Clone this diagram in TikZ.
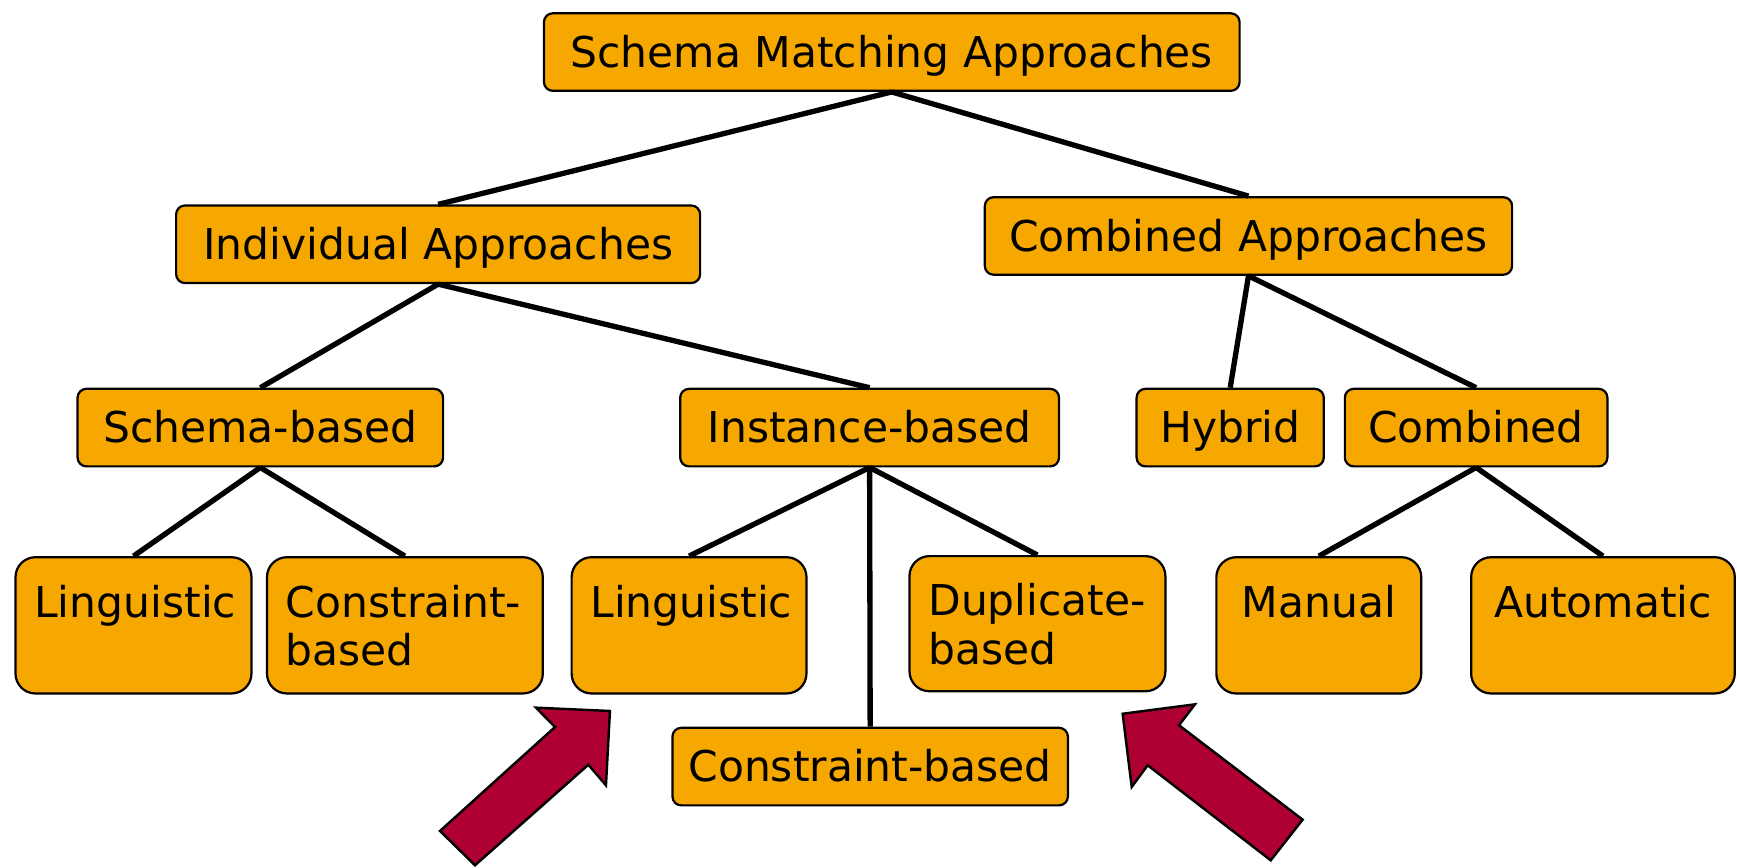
\documentclass[tikz,border=0pt]{standalone}
\usepackage{fontspec}
\setmainfont{DejaVu Sans}

\definecolor{boxfill}{RGB}{247,168,0}
\definecolor{arrowfill}{RGB}{174,0,51}

% Content of a tall box: text hung from the top edge, first baseline 54pt down
\newcommand{\hangtext}[4]{\parbox[c][#2pt][t]{\dimexpr#1pt-34pt\relax}{#3\rule{0pt}{54pt}#4}}

\tikzset{
  x=1pt, y=-1pt,
  boxfont/.style={font=\fontsize{38.3}{44}\selectfont},
  box/.style={boxfont, draw=black, line width=2pt, fill=boxfill,
    rounded corners=8pt, inner sep=0pt, text height=27.7pt, text depth=0pt,
    minimum height=70pt},
  tallbox/.style={boxfont, draw=black, line width=2pt, fill=boxfill,
    rounded corners=18pt, inner xsep=17pt, inner ysep=0pt},
  conn/.style={draw=black, line width=4.8pt},
  blockarrow/.style={draw=black, line width=2.2pt, fill=arrowfill, line join=miter},
}

\begin{document}
\begin{tikzpicture}
\useasboundingbox (0,0) rectangle (1568,783);

% upper levels
\node[box, minimum width=628pt] (top)  at (805,47)    {Schema Matching Approaches};
\node[box, minimum width=473pt] (ind)  at (395.5,220.5) {Individual Approaches};
\node[box, minimum width=476pt] (comb) at (1127,213)  {Combined Approaches};

\node[box, minimum width=330pt] (schema)   at (235,386)    {Schema-based};
\node[box, minimum width=342pt] (instance) at (785,386)    {Instance-based};
\node[box, minimum width=169pt] (hybrid)   at (1110.5,386) {Hybrid};
\node[box, minimum width=237pt] (combined) at (1332.5,386) {Combined};

% leaves
\node[tallbox] (ling1)  at (120.5,564.5) {\hangtext{213}{123}{\centering}{Linguistic}};
\node[tallbox] (cons1)  at (365.5,564.5) {\hangtext{249}{123}{\raggedright}{Constraint-\\based}};
\node[tallbox] (ling2)  at (622,564.5)   {\hangtext{212}{123}{\centering}{Linguistic}};
\node[tallbox] (dup)    at (936.5,563)   {\hangtext{231}{122}{\raggedright}{Duplicate-\\based}};
\node[tallbox] (manual) at (1190.5,564.5){\hangtext{185}{123}{\centering}{Manual}};
\node[tallbox] (auto)   at (1447,564.5)  {\hangtext{238}{123}{\centering}{Automatic}};
\node[box, minimum width=357pt] (cons2) at (785.5,692) {Constraint-based};

% tree edges
\draw[conn] (top.south) -- (ind.north);
\draw[conn] (top.south) -- (comb.north);
\draw[conn] (ind.south) -- (schema.north);
\draw[conn] (ind.south) -- (instance.north);
\draw[conn] (comb.south) -- (hybrid.north);
\draw[conn] (comb.south) -- (combined.north);
\draw[conn] (schema.south) -- (ling1.north);
\draw[conn] (schema.south) -- (cons1.north);
\draw[conn] (instance.south) -- (ling2.north);
\draw[conn] (instance.south) -- (cons2.north);
\draw[conn] (instance.south) -- (dup.north);
\draw[conn] (combined.south) -- (manual.north);
\draw[conn] (combined.south) -- (auto.north);

% block arrows
\draw[blockarrow] (483.8,638.8) -- (550.6,641.8) -- (547.0,708.9) -- (531.1,690.3)
  -- (428.8,781.1) -- (397.2,750.1) -- (501.0,656.3) -- cycle;
\draw[blockarrow] (1013.4,644.3) -- (1078.7,635.8) -- (1064.3,654.7) -- (1175.9,739.9)
  -- (1147.1,776.6) -- (1036.0,690.8) -- (1021.6,710.4) -- cycle;
\end{tikzpicture}
\end{document}
